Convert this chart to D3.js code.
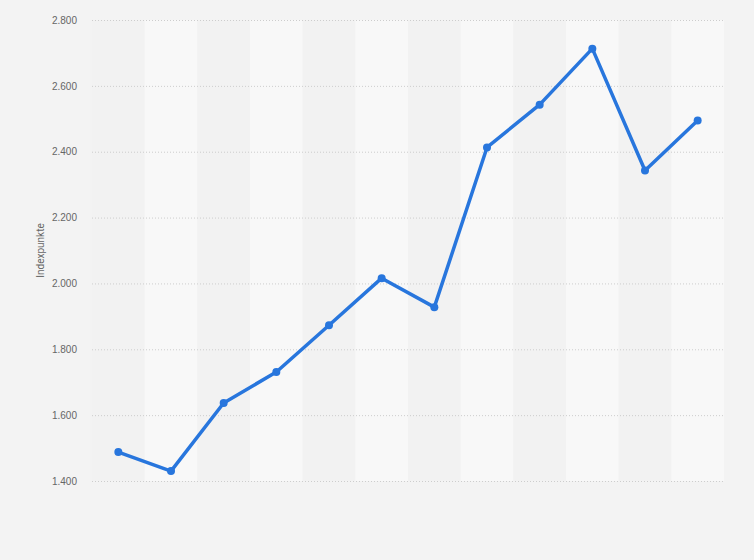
<!DOCTYPE html>
<html>
<head>
<meta charset="utf-8">
<script src="https://cdn.jsdelivr.net/npm/d3@7"></script>
<style>
  html, body { margin: 0; padding: 0; background: #f3f3f3; }
  svg { display: block; font-family: Roboto, "Open Sans", sans-serif; }
</style>
</head>
<body>
<svg id="chart" width="754" height="560"></svg>
<script>
const categories = ['1', '2', '3', '4', '5', '6', '7', '8', '9', '10', '11', '12']
const values = [1488, 1430, 1637, 1731, 1873, 2016, 1928, 2413, 2543, 2713, 2343, 2495]
const yTicks = [1400, 1600, 1800, 2000, 2200, 2400, 2600, 2800]
const yTitle = 'Indexpunkte'

const width = 754
const height = 560
const margin = { top: 20, right: 30, bottom: 79, left: 92 }

const svg = d3.select('#chart')

const x = d3.scaleBand()
  .domain(categories)
  .range([margin.left, width - margin.right])

const y = d3.scaleLinear()
  .domain([1400, 2800])
  .range([height - margin.bottom, margin.top])

const fmt = d3.formatLocale({ decimal: ',', thousands: '.', grouping: [3], currency: ['', ' €'] }).format(',')

// alternating column bands
svg.append('g')
  .selectAll('rect')
  .data(categories)
  .enter().append('rect')
  .attr('x', d => x(d))
  .attr('y', margin.top)
  .attr('width', x.bandwidth())
  .attr('height', y(1400) - margin.top)
  .attr('fill', (d, i) => i % 2 === 0 ? '#f2f2f2' : '#f8f8f8')

// grid + labels
const yAxis = svg.append('g')
  .attr('transform', `translate(${margin.left},0)`)
  .call(d3.axisLeft(y)
    .tickValues(yTicks)
    .tickSize(-(width - margin.left - margin.right))
    .tickPadding(15)
    .tickFormat(fmt))
yAxis.select('.domain').remove()
yAxis.selectAll('.tick line')
  .attr('stroke', '#cdcdcd')
  .attr('stroke-dasharray', '1,2')
yAxis.selectAll('.tick text')
  .attr('fill', '#666')
  .attr('font-size', 10)

svg.append('text')
  .attr('transform', `translate(44,${(margin.top + height - margin.bottom) / 2}) rotate(-90)`)
  .attr('text-anchor', 'middle')
  .attr('fill', '#666')
  .attr('font-size', 10)
  .text(yTitle)

const cx = d => x(d) + x.bandwidth() / 2

const line = d3.line()
  .x((d, i) => cx(categories[i]))
  .y(d => y(d))

svg.append('path')
  .datum(values)
  .attr('d', line)
  .attr('fill', 'none')
  .attr('stroke', '#2876dd')
  .attr('stroke-width', 3.5)
  .attr('stroke-linejoin', 'round')

svg.append('g')
  .selectAll('circle')
  .data(values)
  .enter().append('circle')
  .attr('cx', (d, i) => cx(categories[i]))
  .attr('cy', d => y(d))
  .attr('r', 4)
  .attr('fill', '#2876dd')
</script>
</body>
</html>
